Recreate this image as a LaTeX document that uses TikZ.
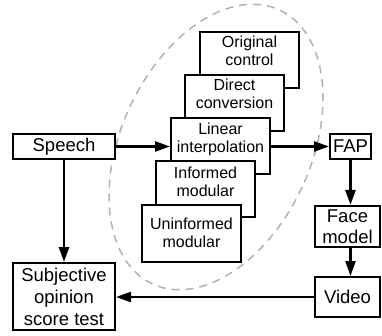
\documentclass[tikz,border=0pt]{standalone}
\usepackage{fontspec}
\setmainfont{Liberation Sans}
\usetikzlibrary{arrows.meta,calc}
\begin{document}
\begin{tikzpicture}[x=1pt,y=-1pt,
  box/.style={draw=black, line width=2pt, fill=white, inner sep=0pt},
  modbox/.style={box, minimum width=99pt, minimum height=56pt},
  modtxt/.style={font=\fontsize{16}{18}\selectfont, align=center, inner sep=0pt},
  sidetxt/.style={font=\fontsize{18.5}{22}\selectfont, align=center},
  flow/.style={line width=2.5pt, -{Triangle[length=15pt,width=10pt]}},
  group/.style={draw=black!30, line width=1.5pt, dash pattern=on 8pt off 6pt}]
\useasboundingbox (0,0) rectangle (382,336);

% dashed outline grouping the interpolation methods
\draw[group, rotate around={-24.8:(216,147)}] (216,147) ellipse [x radius=95, y radius=151];

% stacked method boxes, back to front
\node[modbox] (orig) at (249.5,60) {};
\node[modtxt] (origt) at (249.5,50.5) {Original\\control};
\node[modbox] (dir) at (234.5,103.5) {};
\node[modtxt] (dirt) at (234.5,94) {Direct\\conversion};
\node[modbox] (lin) at (220.5,146.5) {};
\node[modtxt] (lint) at (220.5,139) {Linear\\interpolation};
\node[modbox] (inf) at (205.5,189.5) {};
\node[modtxt] (inft) at (205.5,181.5) {Informed\\modular};
\node[modbox] (uninf) at (191.5,233.5) {};
\node[modtxt] (uninft) at (191.5,232.5) {Uninformed\\modular};

% pipeline boxes
\node[box, sidetxt, minimum width=102pt, minimum height=25pt] (speech) at (64,146.5) {Speech};
\node[box, sidetxt, minimum width=102pt, minimum height=67pt] (subj) at (64,296.5) {Subjective\\opinion\\score test};
\node[box, sidetxt, minimum width=41pt, minimum height=25pt] (fap) at (350.5,146.5) {FAP};
\node[box, sidetxt, minimum width=65pt, minimum height=41pt, font=\fontsize{18.5}{20.5}\selectfont] (face) at (347.5,226.5) {Face\\model};
\node[box, sidetxt, minimum width=65pt, minimum height=40pt] (video) at (347.5,297) {Video};

% connectors
\draw[flow] (speech.east) -- (lin.west);
\draw[flow] (lin.east) -- (fap.west);
\draw[flow] (fap.south) -- (fap.south |- face.north);
\draw[flow] (fap.south |- face.south) -- (fap.south |- video.north);
\draw[flow] (video.west) -- (video.west -| subj.east);
\draw[flow] (speech.south) -- (subj.north);
\end{tikzpicture}
\end{document}
